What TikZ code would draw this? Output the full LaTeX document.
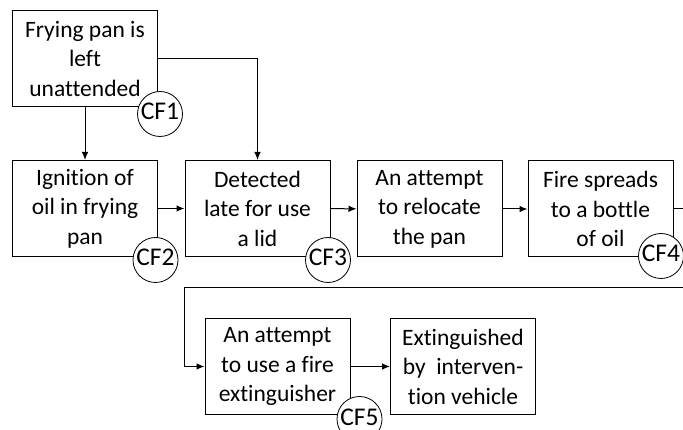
\documentclass[tikz,border=0pt]{standalone}
\usepackage{fontspec}
\setmainfont[Ligatures={NoCommon}]{Carlito}
\usetikzlibrary{arrows.meta}
\tikzset{
  box/.style={draw, line width=1pt, minimum width=145pt, minimum height=96pt, align=center, inner sep=2pt, font=\fontsize{23.5}{29.5}\selectfont},
  cf/.style={draw, circle, fill=white, line width=0.8pt, minimum size=45pt, inner sep=0pt, font=\fontsize{25.5}{26}\selectfont},
  link/.style={->, line width=1pt}
}
\newcommand{\cftext}[1]{\raisebox{-6pt}[0pt][0pt]{\makebox[0pt]{#1}}}
\begin{document}
\begin{tikzpicture}[>={Latex[length=8pt,width=6.5pt]}, x=1pt, y=-1pt]
\useasboundingbox (0,0) rectangle (683,430);
% first row
\node[box] (pan) at (85,59) {Frying pan is\\left\\unattended};
\node[box] (ignite) at (85,208.5) {Ignition of\\oil in frying\\pan};
\node[box] (detect) at (257.5,208.5) {Detected\\late for use\\a lid};
\node[box] (relocate) at (429.5,209) {An attempt\\to relocate\\the pan};
\node[box] (spread) at (600.5,209) {Fire spreads\\to a bottle\\of oil};
% second row
\node[box] (extinguisher) at (277.5,366.5) {An attempt\\to use a fire\\extinguisher};
\node[box] (vehicle) at (463,366.5) {Extinguished\\by\ \ interven-\\tion vehicle};
\coordinate (out) at (683,209);
\coordinate (back) at (683,288);
\coordinate (turn) at (184,288);
\draw[link](pan)--(ignite);
\draw[link](pan.east)-|(detect.north);
\draw[link](ignite)--(detect);
\draw[link](detect)--(relocate);
\draw[link](relocate)--(spread);
\draw[line width=1pt](spread)--(out);
\draw[link](back)--(turn)|-(extinguisher);
\draw[link](extinguisher)--(vehicle);
% labels
\node[cf] (cf1) at (160,114) {\cftext{CF1}};
\node[cf] (cf2) at (155.5,260) {\cftext{CF2}};
\node[cf] (cf3) at (328,260) {\cftext{CF3}};
\node[cf] (cf4) at (661,256) {\cftext{CF4}};
\node[cf] (cf5) at (359.5,419) {\cftext{CF5}};
\end{tikzpicture}
\end{document}
